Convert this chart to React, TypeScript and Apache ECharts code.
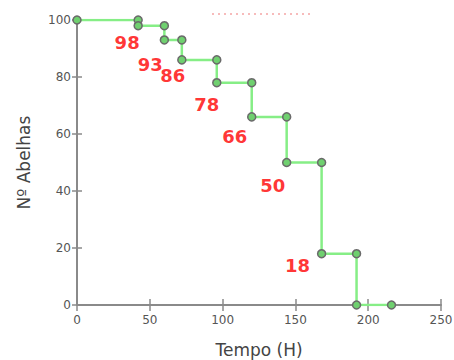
import React, { useEffect, useRef } from "react";
import * as echarts from "echarts";

const hours = [0, 42, 60, 72, 96, 120, 144, 168, 192, 216];
const bees = [100, 98, 93, 86, 78, 66, 50, 18, 0, 0];
const labelledIdx = [1, 2, 3, 4, 5, 6, 7];
const labelOffsets: [number, number][] = [
  [-11, 17],
  [-14, 25],
  [-9, 16],
  [-10, 22],
  [-17, 20],
  [-14, 23],
  [-24, 12],
];
const xTicks = { min: 0, max: 250, interval: 50 };
const yTicks = { min: 0, max: 100, interval: 20 };

function stepPoints(): [number, number][] {
  const pts: [number, number][] = [[hours[0], bees[0]]];
  for (let i = 1; i < hours.length; i++) {
    if (bees[i] !== bees[i - 1]) {
      pts.push([hours[i], bees[i - 1]]);
      pts.push([hours[i], bees[i]]);
    } else {
      pts.push([hours[i], bees[i]]);
    }
  }
  return pts;
}

export default function App() {
  const ref = useRef<HTMLDivElement>(null);
  useEffect(() => {
    if (!ref.current) return;
    const chart = echarts.init(ref.current, undefined, { renderer: "svg" });
    const axisColor = "#8a8a8a";
    const labelColor = "#555";
    const font = "DejaVu Sans";
    chart.setOption({
      animation: false,
      backgroundColor: "#fff",
      grid: { left: 77, right: 13, top: 20, bottom: 55, outerBoundsMode: "none", containLabel: false },
      xAxis: [
        {
          type: "value",
          ...xTicks,
          position: "bottom",
          name: "Tempo (H)",
          nameLocation: "middle",
          nameGap: 45,
          nameTextStyle: {
            fontFamily: font,
            fontSize: 17,
            color: "#444",
            verticalAlign: "middle",
          },
          splitLine: { show: false },
          axisLine: { lineStyle: { color: axisColor, width: 2 } },
          axisTick: { show: true, inside: false, length: 6, lineStyle: { color: axisColor, width: 1.5 } },
          axisLabel: { fontFamily: font, fontSize: 12, color: labelColor, margin: 9 },
        },
        {
          type: "value",
          ...xTicks,
          position: "bottom",
          offset: 0,
          splitLine: { show: false },
          axisLine: { show: false },
          axisTick: { show: true, inside: true, length: 6, lineStyle: { color: axisColor, width: 1.5 } },
          axisLabel: { show: false },
        },
      ],
      yAxis: [
        {
          type: "value",
          ...yTicks,
          position: "left",
          name: "Nº Abelhas",
          nameLocation: "middle",
          nameGap: 53,
          nameTextStyle: {
            fontFamily: font,
            fontSize: 17,
            color: "#444",
            verticalAlign: "middle",
          },
          splitLine: { show: false },
          axisLine: { show: true, lineStyle: { color: axisColor, width: 2 } },
          axisTick: { show: true, inside: false, length: 5, lineStyle: { color: axisColor, width: 1.5 } },
          axisLabel: { fontFamily: font, fontSize: 12, color: labelColor, margin: 6 },
        },
        {
          type: "value",
          ...yTicks,
          position: "left",
          offset: 0,
          splitLine: { show: false },
          axisLine: { show: false },
          axisTick: { show: true, inside: true, length: 5, lineStyle: { color: axisColor, width: 1.5 } },
          axisLabel: { show: false },
        },
      ],
      series: [
        {
          type: "line",
          data: stepPoints(),
          xAxisIndex: 0,
          yAxisIndex: 0,
          symbol: "circle",
          symbolSize: 8,
          lineStyle: { color: "#86ee86", width: 2.5 },
          itemStyle: { color: "#6fd06f", borderColor: "#6a6a6a", borderWidth: 1.5 },
          z: 3,
        },
        {
          type: "scatter",
          xAxisIndex: 0,
          yAxisIndex: 0,
          symbolSize: 0,
          data: labelledIdx.map((i, k) => ({
            value: [hours[i], bees[i]],
            label: {
              show: true,
              position: "inside",
              offset: labelOffsets[k],
              formatter: String(bees[i]),
              fontFamily: font,
              fontWeight: "bold",
              fontSize: 18,
              color: "#ff0000",
            },
          })),
          z: 4,
        },
      ],
      graphic: [
        {
          type: "line",
          shape: { x1: 212, y1: 14, x2: 313, y2: 14 },
          style: { stroke: "#f5a5a5", lineWidth: 1.5, lineDash: [2, 4] },
        },
      ],
    });
    return () => chart.dispose();
  }, []);
  return (
    <div
      ref={ref}
      style={{ position: "absolute", left: 0, top: 0, width: 454, height: 360 }}
    />
  );
}
